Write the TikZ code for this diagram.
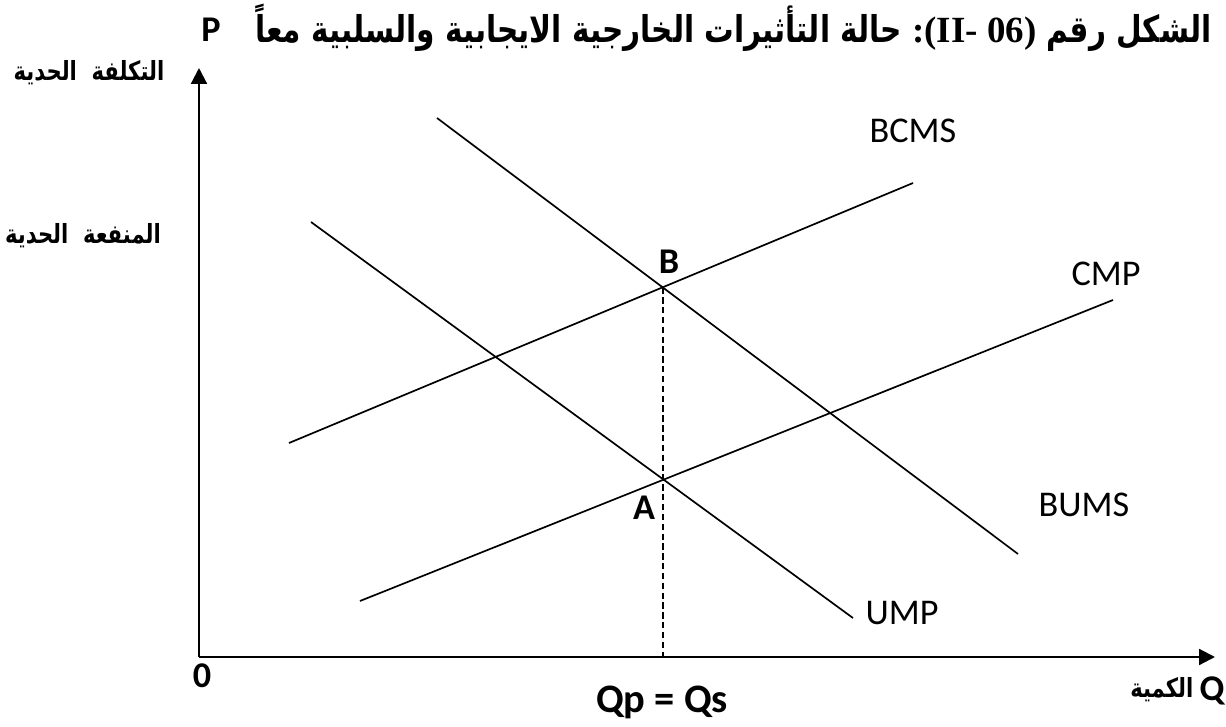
\documentclass[tikz,border=0pt]{standalone}
\usepackage{fontspec}
\setmainfont{Carlito}
\newfontfamily\arabicfont[Script=Arabic, FakeStretch=0.8]{DejaVu Sans}
\newfontfamily\titlelatin{Liberation Serif}
\TeXXeTstate=1
\usetikzlibrary{arrows.meta}

\begin{document}
\begin{tikzpicture}[
  x=0.01cm, y=-0.01cm,
  font=\fontsize{10.3}{12}\selectfont,
  curve/.style={line width=0.48pt},
  axis/.style={line width=0.6pt, -{Triangle[length=4.5pt,width=4.5pt]}},
  guide/.style={line width=0.55pt, dash pattern=on 1.8pt off 1pt},
  curvelabel/.style={inner sep=0pt},
  pointlabel/.style={inner sep=0pt, font=\fontsize{10.3}{12}\selectfont\bfseries},
  arlabel/.style={inner sep=0pt, font=\arabicfont\fontsize{7.5}{9}\selectfont\bfseries}
]
\useasboundingbox (0,0) rectangle (1226,727);

% axes
\coordinate (O) at (199,657);
\coordinate (ytip) at (199,68);
\coordinate (xtip) at (1215,657);
\draw[axis] (O) -- (ytip);
\draw[axis] (O) -- (xtip);

% curves
\coordinate (bcms1) at (289,443);
\coordinate (bcms2) at (913,183);
\coordinate (cmp1) at (360,601);
\coordinate (cmp2) at (1113,300);
\coordinate (bums1) at (437,118);
\coordinate (bums2) at (1018,554);
\coordinate (ump1) at (311,222);
\coordinate (ump2) at (853,618);
\draw[curve] (bcms1) -- (bcms2);
\draw[curve] (cmp1) -- (cmp2);
\draw[curve] (bums1) -- (bums2);
\draw[curve] (ump1) -- (ump2);

\coordinate (B) at (intersection of bcms1--bcms2 and bums1--bums2);
\coordinate (A) at (intersection of cmp1--cmp2 and ump1--ump2);
\coordinate (Bfoot) at (B |- O);
\draw[guide] (B) -- (Bfoot);

\node[curvelabel] (lbcms) at (913,131) {BCMS};
\node[curvelabel] (lcmp) at (1106,274) {CMP};
\node[curvelabel] (lbums) at (1084,505) {BUMS};
\node[curvelabel] (lump) at (902,613) {UMP};

\node[pointlabel] (lB) at (669,262) {B};
\node[pointlabel] (lA) at (644,508) {A};
\node[pointlabel] (lO) at (202,676) {0};
\node[pointlabel] (lP) at (211,30) {P};
\node[pointlabel] (lQ) at (1212,691) {Q};
\node[pointlabel, font=\fontsize{11.5}{13}\selectfont\bfseries] (lqq) at (662,702) {Qp = Qs};

\node[arlabel, anchor=east] (lqty) at (1194,690) {\beginR الكمية\endR};
\node[arlabel] (lcost) at (89,73) {\beginR التكلفة~~الحدية\endR};
\node[arlabel] (lbenefit) at (83,236) {\beginR المنفعة~~الحدية\endR};

\node[inner sep=0pt, anchor=east, font=\arabicfont\fontsize{10.5}{12}\selectfont\bfseries] (title) at (1212,28)
  {\beginR الشكل رقم \beginL{\titlelatin\fontsize{10.5}{12}\selectfont\bfseries :(II- 06)}\endL\ حالة التأثيرات الخارجية الايجابية والسلبية معاً\endR};

\end{tikzpicture}
\end{document}
